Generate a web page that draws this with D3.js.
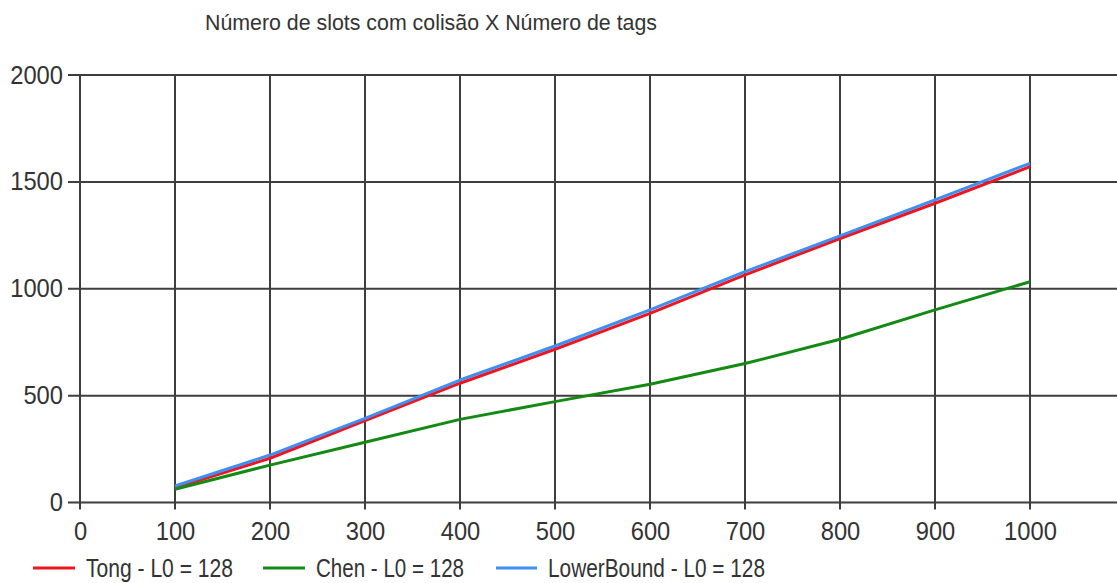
<!DOCTYPE html>
<html>
<head>
<meta charset="utf-8">
<script src="https://cdn.jsdelivr.net/npm/d3@7"></script>
<style>
  html, body { margin: 0; padding: 0; background: #fff; overflow: hidden; }
  svg { display: block; }
  text { font-family: "Liberation Sans", Arial, sans-serif; fill: #333; }
</style>
</head>
<body>
<svg id="chart" width="1117" height="583"></svg>
<script>
const titleText = "Número de slots com colisão X  Número de tags";
const tags = [100, 200, 300, 400, 500, 600, 700, 800, 900, 1000];
const tong = [69, 207, 383, 558, 717, 885, 1065, 1235, 1400, 1571];
const chen = [62, 175, 282, 389, 472, 553, 650, 764, 901, 1033];
const lowerBound = [77, 222, 394, 573, 732, 901, 1080, 1247, 1416, 1587];
const xTicks = [0, 100, 200, 300, 400, 500, 600, 700, 800, 900, 1000, 1100];
const xTickLabels = ["0", "100", "200", "300", "400", "500", "600", "700", "800", "900", "1000", ""];
const yTicks = [0, 500, 1000, 1500, 2000];
const seriesNames = ["Tong - L0 = 128", "Chen - L0 = 128", "LowerBound - L0 = 128"];
const seriesColors = ["#f0141e", "#138a13", "#3f8ff0"];

const series = [
  { name: seriesNames[0], values: tong, color: seriesColors[0] },
  { name: seriesNames[1], values: chen, color: seriesColors[1] },
  { name: seriesNames[2], values: lowerBound, color: seriesColors[2] }
];

const svg = d3.select("#chart");
const mLeft = 80, mTop = 75, mBottom = 502.5;
const x = d3.scaleLinear().domain([0, 1100]).range([mLeft, mLeft + 1045]);
const y = d3.scaleLinear().domain([0, 2000]).range([mBottom, mTop]);
const digitW = 13.2;

// title
svg.append("text")
  .attr("x", 205).attr("y", 30)
  .attr("font-size", 22)
  .attr("textLength", 452).attr("lengthAdjust", "spacingAndGlyphs")
  .text(titleText);

// grid
const grid = svg.append("g").attr("stroke", "#2a2a2a").attr("stroke-width", 2).attr("opacity", 0.9);
grid.selectAll("line.v").data(xTicks.filter(d => d > 0)).join("line")
  .attr("class", "v")
  .attr("x1", d => x(d)).attr("x2", d => x(d))
  .attr("y1", y(2000)).attr("y2", mBottom + 7);
grid.selectAll("line.h").data(yTicks).join("line")
  .attr("class", "h")
  .attr("x1", mLeft - 12).attr("x2", 1117)
  .attr("y1", d => y(d)).attr("y2", d => y(d));
grid.append("line").attr("x1", mLeft).attr("x2", mLeft).attr("y1", y(2000)).attr("y2", mBottom + 7);

// y axis labels
const yAxis = d3.axisLeft(y).tickValues(yTicks).tickSize(0).tickPadding(17).tickFormat(d3.format("d"));
const gy = svg.append("g").attr("transform", `translate(${mLeft},0)`).call(yAxis);
gy.select(".domain").remove();
gy.selectAll("text").attr("font-size", 25).attr("fill", "#333")
  .style("font-family", '"Liberation Sans", Arial, sans-serif')
  .attr("textLength", function() { return this.textContent.length * digitW; })
  .attr("lengthAdjust", "spacingAndGlyphs");

// x axis labels
const xAxis = d3.axisBottom(x).tickValues(xTicks).tickSize(0).tickPadding(20)
  .tickFormat((d, i) => xTickLabels[i]);
const gx = svg.append("g").attr("transform", `translate(0,${mBottom})`).call(xAxis);
gx.select(".domain").remove();
gx.selectAll("text").attr("font-size", 25).attr("fill", "#333")
  .style("font-family", '"Liberation Sans", Arial, sans-serif')
  .attr("textLength", function() { return Math.max(1, this.textContent.length) * digitW; })
  .attr("lengthAdjust", "spacingAndGlyphs");

// lines
const line = d3.line().x((d, i) => x(tags[i])).y(d => y(d));
svg.append("g").selectAll("path").data(series).join("path")
  .attr("fill", "none")
  .attr("stroke", d => d.color)
  .attr("stroke-width", 3)
  .attr("stroke-linejoin", "round")
  .attr("d", d => line(d.values));

// legend
const legendItems = [
  { x1: 33, x2: 75, tx: 86, tw: 147 },
  { x1: 263, x2: 305, tx: 316, tw: 148 },
  { x1: 496, x2: 537, tx: 548, tw: 217 }
];
const lg = svg.append("g");
series.forEach((s, i) => {
  const it = legendItems[i];
  lg.append("line").attr("x1", it.x1).attr("x2", it.x2).attr("y1", 568).attr("y2", 568)
    .attr("stroke", s.color).attr("stroke-width", 3);
  lg.append("text").attr("x", it.tx).attr("y", 577)
    .attr("font-size", 25)
    .attr("textLength", it.tw).attr("lengthAdjust", "spacingAndGlyphs")
    .text(s.name);
});
</script>
</body>
</html>
